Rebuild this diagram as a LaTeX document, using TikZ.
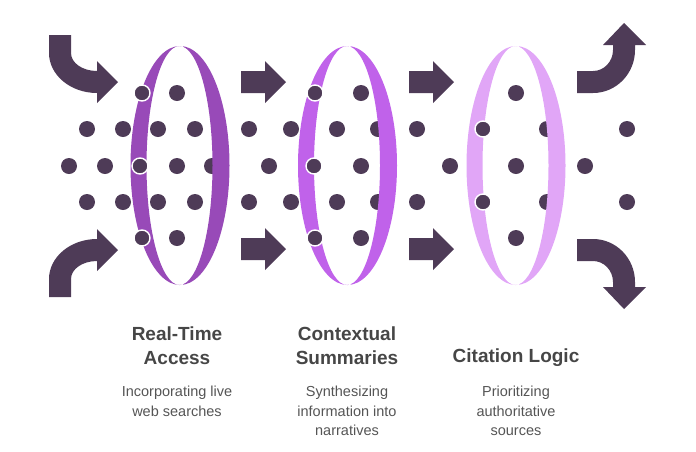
\documentclass[tikz,border=0pt]{standalone}
\usepackage{fontspec}
\setmainfont{Liberation Sans}
\definecolor{dark}{HTML}{4E3B57}
\definecolor{ringA}{HTML}{984AB8}
\definecolor{ringB}{HTML}{C062EA}
\definecolor{ringC}{HTML}{E1A6F7}
\definecolor{titlecol}{HTML}{464646}
\definecolor{desccol}{HTML}{555555}
\newcommand{\ringshape}[2]{%
  \fill[#2, even odd rule] (#1,165.5) ellipse [x radius=49.5, y radius=119.5]
        (#1-0.5,165.5) ellipse [x radius=33, y radius=119.5];
  \draw[white, line width=1.1pt] (#1+3,45.5) -- (#1-4,53);
  \draw[white, line width=1.1pt] (#1+3,285.5) -- (#1-4,278);
}
\newcommand{\straightarrow}[2]{%
  \fill[dark] (#1,#2-11) -- (#1+24,#2-11) -- (#1+24,#2-21) -- (#1+45,#2)
     -- (#1+24,#2+21) -- (#1+24,#2+11) -- (#1,#2+11) -- cycle;
}
\begin{document}
\begin{tikzpicture}[x=1pt,y=-1pt,
  backdot/.style={fill=dark},
  frontdot/.style={fill=dark, draw=white, line width=1.4pt},
  titletext/.style={text=titlecol, font=\fontsize{19}{24}\selectfont\bfseries, align=center, anchor=north, inner sep=0pt},
  desctext/.style={text=desccol, font=\fontsize{14.5}{19.5}\selectfont, align=center, anchor=north, inner sep=0pt}]
\useasboundingbox (0,0) rectangle (696,451);

% dots behind the rings
\foreach \x in {177,361,516} {
  \fill[backdot] (\x,93) circle[radius=8];
  \fill[backdot] (\x,238) circle[radius=8];
}
\foreach \x in {87,123,158,195,249,291,337,378,417,547,627} {
  \fill[backdot] (\x,129) circle[radius=8];
  \fill[backdot] (\x,202) circle[radius=8];
}
\foreach \x in {69,105,177,212,269,361,450,516,585} {
  \fill[backdot] (\x,166) circle[radius=8];
}

% rings
\ringshape{180}{ringA}
\ringshape{347.5}{ringB}
\ringshape{516}{ringC}

% dots in front of the rings
\foreach \p in {(142,93),(140,166),(142,238),(315,93),(314,166),(315,238),(483,129),(483,202)} {
  \filldraw[frontdot] \p circle[radius=8];
}

% straight arrows
\straightarrow{241}{82}
\straightarrow{241}{249}
\straightarrow{409}{82}
\straightarrow{409}{249}

% curved arrows, left
\fill[dark] (49,35) -- (49,53) .. controls (49,75) and (70.5,93) .. (97,93) -- (97,103) -- (118,82)
  -- (97,61) -- (97,71) .. controls (82.6,71) and (71,63) .. (71,53) -- (71,35) -- cycle;
\fill[dark] (49,297) -- (49,279) .. controls (49,257) and (70.5,239) .. (97,239) -- (97,229) -- (118,250)
  -- (97,271) -- (97,261) .. controls (82.6,261) and (71,269) .. (71,279) -- (71,297) -- cycle;

% curved arrows, right
\fill[dark] (577,71) -- (593,71) .. controls (604,71) and (613,61.6) .. (613,50) -- (613,45) -- (603,45)
  -- (624,23) -- (646,45) -- (635,45) -- (635,50) .. controls (635,73.7) and (616.2,93) .. (593,93)
  -- (577,93) -- cycle;
\fill[dark] (577,261) -- (593,261) .. controls (604,261) and (613,270.4) .. (613,282) -- (613,287) -- (603,287)
  -- (624,309) -- (646,287) -- (635,287) -- (635,282) .. controls (635,258.3) and (616.2,239) .. (593,239)
  -- (577,239) -- cycle;

% texts
\node[titletext] (t1) at (177,327) {Real-Time\\Access};
\node[titletext] (t2) at (347,327) {Contextual\\Summaries};
\node[titletext] (t3) at (516,349) {Citation Logic};
\node[desctext] (d1) at (177,386) {Incorporating live\\web searches};
\node[desctext] (d2) at (347,386) {Synthesizing\\information into\\narratives};
\node[desctext] (d3) at (516,386) {Prioritizing\\authoritative\\sources};
\end{tikzpicture}
\end{document}
